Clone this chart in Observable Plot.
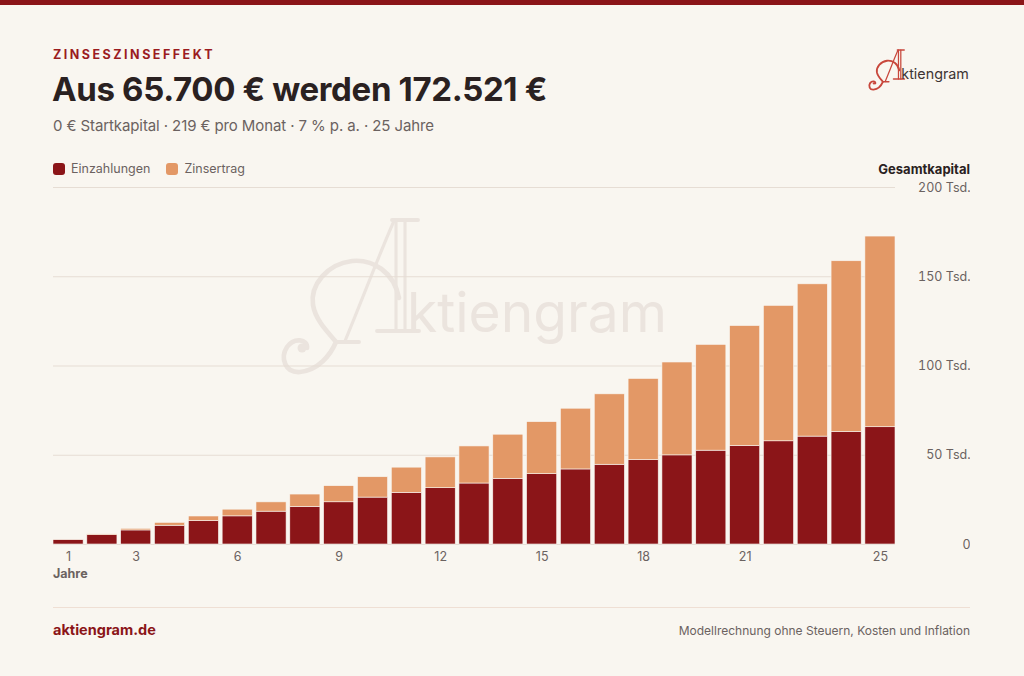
<!DOCTYPE html>
<html>
<head>
<meta charset="utf-8">
<script src="https://cdn.jsdelivr.net/npm/d3@7"></script>
<script src="https://cdn.jsdelivr.net/npm/@observablehq/plot@0.6"></script>
<style>
  html, body { margin: 0; padding: 0; }
  body { width: 1024px; height: 676px; background: #f9f6f0; position: relative; overflow: hidden; font-family: Inter, "DejaVu Sans", sans-serif; }
  .abs { position: absolute; line-height: 1; white-space: nowrap; }
  #topbar { position: absolute; left: 0; top: 0; width: 1024px; height: 5px; background: #8b1518; }
  #kicker { left: 53px; top: 49px; font-size: 12.5px; font-weight: 700; letter-spacing: 2.5px; color: #9b1c1f; }
  #title { left: 52px; top: 73px; font-size: 33px; font-weight: 700; letter-spacing: -0.35px; color: #2a2121; }
  #subtitle { left: 53px; top: 118px; font-size: 15px; color: #6b6260; letter-spacing: -0.1px; }
  #legend { left: 53px; top: 163px; font-size: 12.5px; color: #6b6260; display: flex; align-items: center; }
  .sw { display: inline-block; width: 12px; height: 12px; border-radius: 3px; margin-right: 6px; }
  .li { display: flex; align-items: center; margin-right: 16px; }
  #gesamt { right: 54px; top: 163px; font-size: 13px; font-weight: 700; color: #2a2121; }
  #jahre { left: 53px; top: 568px; font-size: 12.5px; font-weight: 700; color: #6b6260; }
  #footline { position: absolute; left: 53px; top: 607px; width: 917px; height: 1px; background: #efdfd4; }
  #site { left: 53px; top: 623px; font-size: 14.5px; font-weight: 700; color: #8b1518; }
  #note { right: 54px; top: 625px; font-size: 12px; color: #6b6260; }
  #watermark { position: absolute; left: 275px; top: 212px; width: 400px; height: 165px; }
  #logo { position: absolute; left: 866.7px; top: 48.4px; width: 104px; height: 42.9px; }
  #chart { position: absolute; left: 53px; top: 180px; }
</style>
</head>
<body>
<div id="topbar"></div>
<div id="watermark"></div>
<div id="chart"></div>
<div id="logo"></div>
<div class="abs" id="kicker">ZINSESZINSEFFEKT</div>
<div class="abs" id="title">Aus 65.700 € werden 172.521 €</div>
<div class="abs" id="subtitle">0 € Startkapital · 219 € pro Monat · 7 % p. a. · 25 Jahre</div>
<div class="abs" id="legend"></div>
<div class="abs" id="gesamt">Gesamtkapital</div>
<div class="abs" id="jahre">Jahre</div>
<div id="footline"></div>
<div class="abs" id="site">aktiengram.de</div>
<div class="abs" id="note">Modellrechnung ohne Steuern, Kosten und Inflation</div>
<script>
// ---- data ----
const years = [1,2,3,4,5,6,7,8,9,10,11,12,13,14,15,16,17,18,19,20,21,22,23,24,25];
const einzahlungen = [2628,5256,7884,10512,13140,15768,18396,21024,23652,26280,28908,31536,34164,36792,39420,42048,44676,47304,49932,52560,55188,57816,60444,63072,65700];
const zinsertrag = [100,390,885,1598,2546,3743,5209,6961,9019,11406,14144,17257,20772,24717,29123,34021,39445,45433,52025,59261,67188,75855,85311,95613,106821];
const seriesNames = ["Einzahlungen","Zinsertrag"];
const seriesColors = ["#8b1518","#e39866"];
const xTicks = [1,3,6,9,12,15,18,21,25];
const yTicks = [0,50000,100000,150000,200000];

// ---- logo (decoration) ----
function logoSvg(aColor, textColor, sw) {
  return `<svg xmlns="http://www.w3.org/2000/svg" viewBox="275 212 400 165" width="100%" height="100%">
    <g fill="none" stroke="${aColor}" stroke-linecap="round">
      <path d="M392,220 H418" stroke-width="${3*sw}"/>
      <path d="M396,220 V331 M405,220 V331" stroke-width="${2.4*sw}"/>
      <path d="M377,331 H419" stroke-width="${3*sw}"/>
      <path d="M394,221 C383,245 362,300 345,341" stroke-width="${2.4*sw}"/>
      <path d="M336,342 H359" stroke-width="${3*sw}"/>
      <path d="M399,298 C394,272 373,259 352,261 C327,264 310,285 313,305 C316,322 330,334 336,342 C330,356 318,370 300,372 C285,373 280,358 287,347 C294,337 308,339 307,348" stroke-width="${3.6*sw}"/>
    </g>
    <circle cx="302" cy="348" r="4.5" fill="${aColor}"/>
    <text x="407" y="332" font-family="Inter, sans-serif" font-size="55" fill="${textColor}" textLength="260" lengthAdjust="spacingAndGlyphs">ktiengram</text>
  </svg>`;
}
document.getElementById("watermark").innerHTML = logoSvg("#ebe4de", "#ebe4de", 1.3);
document.getElementById("logo").innerHTML = logoSvg("#c8473c", "#3d3433", 2);

// ---- legend ----
document.getElementById("legend").innerHTML = seriesNames.map((n, i) =>
  `<span class="li"><span class="sw" style="background:${seriesColors[i]}"></span>${n}</span>`).join("");

// ---- chart ----
const table = [];
years.forEach((yr, i) => {
  table.push({year: yr, type: seriesNames[0], value: einzahlungen[i]});
  table.push({year: yr, type: seriesNames[1], value: zinsertrag[i]});
});

const chart = Plot.plot({
  width: 917,
  height: 400,
  marginLeft: 0,
  marginRight: 75,
  marginTop: 7,
  marginBottom: 36,
  style: {background: "transparent", fontFamily: "Inter, sans-serif", fontSize: "12.5px", color: "#6b6260"},
  x: {type: "band", domain: years, paddingInner: 0.11, paddingOuter: 0, round: false, label: null},
  y: {domain: [0, 200000], label: null},
  color: {domain: seriesNames, range: seriesColors},
  marks: [
    Plot.gridY(yTicks, {stroke: "#e6ddd4", strokeOpacity: 1}),
    Plot.barY(table, {x: "year", y: "value", fill: "type", order: seriesNames, stroke: "#f9f6f0", strokeWidth: 0.6}),
    Plot.axisX(xTicks, {tickSize: 0, tickPadding: 8, fill: "#6b6260", fontSize: 12.5}),
    Plot.axisY(yTicks, {anchor: "right", tickSize: 0, tickPadding: 0, textAnchor: "end", dx: 75, fill: "#6b6260", fontSize: 12.5,
      tickFormat: d => d === 0 ? "0" : (d / 1000) + " Tsd."})
  ]
});
document.getElementById("chart").appendChild(chart);
</script>
</body>
</html>
